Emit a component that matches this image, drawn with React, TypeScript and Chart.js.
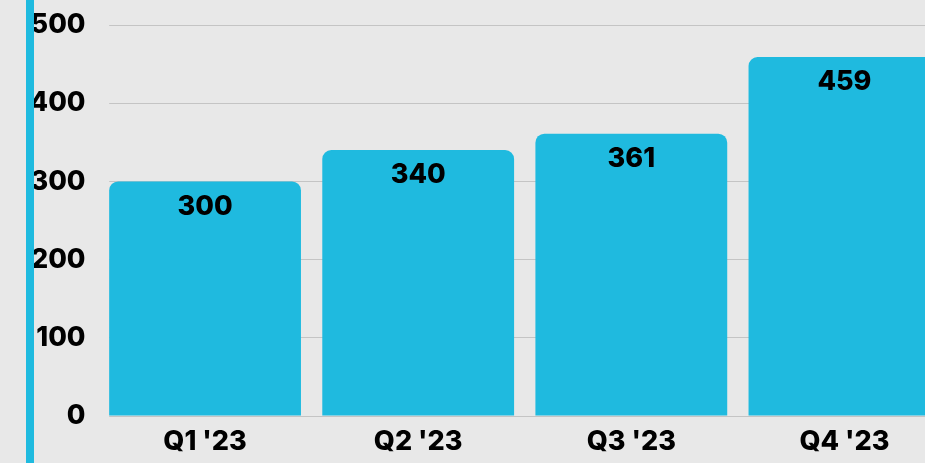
import React, { useEffect, useRef } from "react";
import { Chart, registerables } from "chart.js";

Chart.register(...registerables);

const categories = ["Q1 '23", "Q2 '23", "Q3 '23", "Q4 '23"];
const revenue = [300, 340, 361, 459];
const yTicks = [0, 100, 200, 300, 400, 500];

const BG = "#e8e8e8";
const BLUE = "#1fbadf";
const FONT = "Inter, 'DejaVu Sans', sans-serif";
const FONT_SIZE = 27;
const FONT_WEIGHT = "800";

export default function App() {
  const ref = useRef<HTMLCanvasElement | null>(null);

  useEffect(() => {
    if (!ref.current) return;
    const decor = {
      id: "decor",
      beforeDraw(chart: any) {
        const ctx = chart.ctx;
        ctx.save();
        ctx.fillStyle = BG;
        ctx.fillRect(0, 0, chart.width, chart.height);
        ctx.fillStyle = BLUE;
        ctx.fillRect(26, 0, 8, chart.height);
        ctx.restore();
      },
      beforeDatasetsDraw(chart: any) {
        const meta = chart.getDatasetMeta(0);
        const first = meta.data[0] as any;
        if (!first) return;
        const left = first.x - first.width / 2;
        const area = chart.chartArea;
        const ctx = chart.ctx;
        ctx.save();
        ctx.fillStyle = BG;
        ctx.fillRect(area.left - 1, area.top - 2, left - area.left + 1, area.bottom - area.top + 4);
        ctx.restore();
      },
      afterDatasetsDraw(chart: any) {
        const meta = chart.getDatasetMeta(0);
        const ctx = chart.ctx;
        ctx.save();
        ctx.font = `${FONT_WEIGHT} ${FONT_SIZE}px ${FONT}`;
        ctx.fillStyle = "#000";
        ctx.textAlign = "center";
        ctx.textBaseline = "middle";
        meta.data.forEach((bar: any, i: number) => {
          ctx.fillText(String(revenue[i]), bar.x, bar.y + 25);
        });
        ctx.restore();
      },
    };

    const chart = new Chart(ref.current, {
      type: "bar",
      data: {
        labels: categories,
        datasets: [
          {
            label: "Revenue",
            data: revenue,
            backgroundColor: BLUE,
            borderRadius: { topLeft: 9, topRight: 9, bottomLeft: 0, bottomRight: 0 },
            borderSkipped: false,
            barPercentage: 0.9,
            categoryPercentage: 1,
          },
        ],
      },
      plugins: [decor],
      options: {
        responsive: false,
        animation: false,
        layout: { padding: { left: 34, right: 0, top: 25, bottom: 5 } },
        plugins: { legend: { display: false }, tooltip: { enabled: false } },
        scales: {
          x: {
            offset: true,
            grid: { display: false, drawTicks: false },
            border: { display: false },
            afterFit: (scale: any) => {
              scale.height = 42;
              scale.paddingLeft = 0;
              scale.paddingRight = 0;
            },
            ticks: {
              color: "#000",
              padding: 10,
              font: { family: FONT, size: FONT_SIZE, weight: FONT_WEIGHT },
            },
          },
          y: {
            min: yTicks[0],
            max: yTicks[yTicks.length - 1],
            afterBuildTicks: (scale: any) => {
              scale.ticks = yTicks.map((v) => ({ value: v }));
            },
            afterFit: (scale: any) => {
              scale.width = 64.5;
              scale.paddingTop = 0;
              scale.paddingBottom = 0;
            },
            grid: { color: "#c4c4c4", lineWidth: 1, drawTicks: false },
            border: { display: false },
            ticks: {
              color: "#000",
              padding: 13,
              font: { family: FONT, size: FONT_SIZE, weight: FONT_WEIGHT },
            },
          },
        },
      },
    });
    return () => chart.destroy();
  }, []);

  return (
    <div
      style={{
        position: "fixed",
        left: 0,
        top: 0,
        width: 925,
        height: 463,
        overflow: "hidden",
        background: BG,
      }}
    >
      <canvas ref={ref} width={951} height={463} style={{ display: "block", width: 951, height: 463 }} />
    </div>
  );
}
